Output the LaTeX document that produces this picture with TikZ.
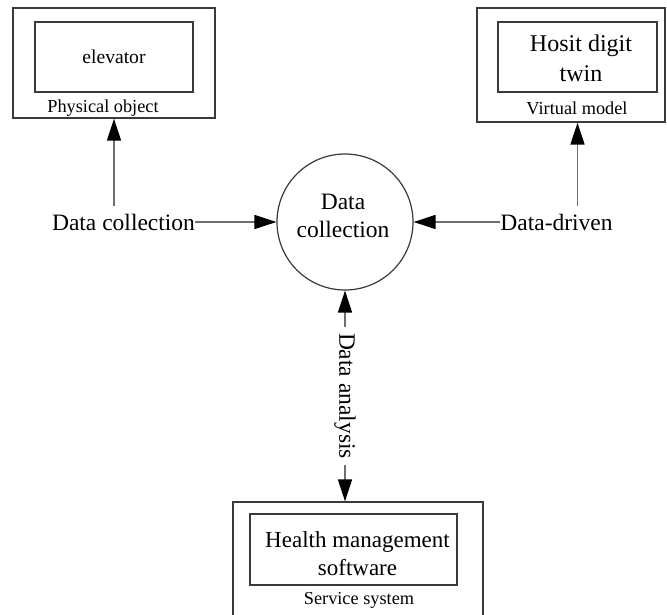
\documentclass[tikz,border=0pt]{standalone}
\usepackage{fontspec}
\setmainfont{Liberation Serif}
\usetikzlibrary{arrows.meta}
\definecolor{boxgray}{HTML}{3A3A3A}
\definecolor{linegray}{HTML}{6E6E6E}
\begin{document}
\begin{tikzpicture}[x=1pt,y=-1pt,
  boxnode/.style={draw=boxgray, line width=1.3pt, rectangle, inner sep=0pt},
  bigtext/.style={font=\fontsize{23.5}{28}\selectfont, inner sep=0pt, align=center},
  smalltext/.style={font=\fontsize{18.3}{22}\selectfont, inner sep=0pt},
  lbl/.style={font=\fontsize{23.5}{28}\selectfont, inner xsep=0pt, inner ysep=8pt},
  conn/.style={draw=linegray, line width=1.5pt, -{Triangle[length=22pt,width=14pt,color=black]}},
  conntwo/.style={draw=linegray, line width=1.5pt, {Triangle[length=22pt,width=14pt,color=black]}-{Triangle[length=22pt,width=14pt,color=black]}}
]
\useasboundingbox (0,0) rectangle (667,614);
\clip (0,0) rectangle (667,614);
\fill[white] (0,0) rectangle (667,614);

% top-left: physical object
\node[boxnode, minimum width=202pt, minimum height=110pt] (phys) at (114,63) {};
\node[boxnode, minimum width=158pt, minimum height=70pt] (physin) at (114,57) {};
\node[inner sep=0pt, font=\fontsize{19.6}{23}\selectfont] (elev) at (114,57) {elevator};
\node[smalltext] (physlbl) at (103,108) {Physical object};

% top-right: virtual model
\node[boxnode, minimum width=188pt, minimum height=114pt] (virt) at (571,65) {};
\node[boxnode, minimum width=159pt, minimum height=70pt] (virtin) at (577.5,57) {};
\node[bigtext, font=\fontsize{24}{30}\selectfont] (twin) at (581,58) {Hosit digit\\twin};
\node[smalltext] (virtlbl) at (577,108) {Virtual model};

% bottom: service system
\node[boxnode, minimum width=250pt, minimum height=116pt] (serv) at (358,560) {};
\node[boxnode, minimum width=207pt, minimum height=71pt] (servin) at (353.5,549.5) {};
\node[bigtext, font=\fontsize{23}{28}\selectfont] (hms) at (357.5,554) {Health management\\software};
\node[smalltext] (servlbl) at (359,600) {Service system};

% centre circle
\node[circle, draw=boxgray, line width=1.2pt, minimum size=136pt, inner sep=0pt] (circ) at (345,222) {};
\node[bigtext] (circtxt) at (343,216) {Data\\collection};

% side labels
\node[lbl] (dcl) at (123.5,222) {Data collection};
\node[lbl] (ddr) at (556.5,222) {Data-driven};

% connectors
\draw[conn] (physin.south |- dcl.north) -- (physin.south |- phys.south);
\draw[conn] (dcl.east) -- (circ);
\draw[conn] (virtin.south |- ddr.north) -- (virtin.south |- virt.south);
\draw[conn] (ddr.west) -- (circ);
\draw[conntwo] (circ.south) -- (circ.south |- serv.north)
  node[midway, sloped, fill=white, inner xsep=6pt, inner ysep=1pt, font=\fontsize{23.5}{28}\selectfont, rotate=0] (da) {Data analysis};
\end{tikzpicture}
\end{document}
